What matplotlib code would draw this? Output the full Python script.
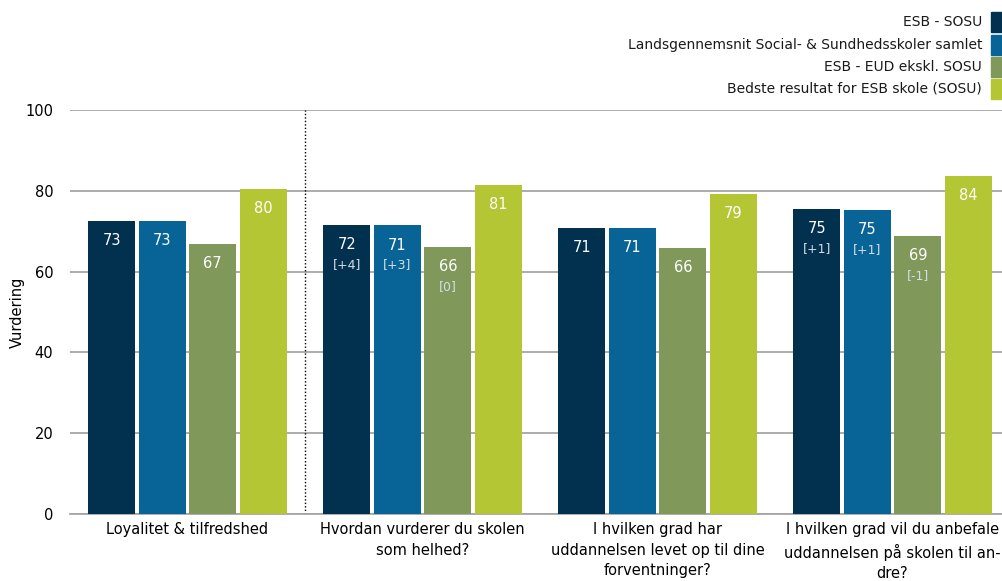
import matplotlib
matplotlib.use("Agg")
import matplotlib.pyplot as plt
import numpy as np

categories = [
    "Loyalitet & tilfredshed",
    "Hvordan vurderer du skolen\nsom helhed?",
    "I hvilken grad har\nuddannelsen levet op til dine\nforventninger?",
    "I hvilken grad vil du anbefale\nuddannelsen på skolen til an-\ndre?",
]
series_names = [
    "ESB - SOSU",
    "Landsgennemsnit Social- & Sundhedsskoler samlet",
    "ESB - EUD ekskl. SOSU",
    "Bedste resultat for ESB skole (SOSU)",
]
esb_sosu = [72.6, 71.6, 70.9, 75.6]
lands = [72.6, 71.5, 70.9, 75.3]
esb_eud = [66.9, 66.2, 65.9, 68.9]
bedste = [80.5, 81.5, 79.3, 83.7]

esb_sosu_labels = ["73", "72", "71", "75"]
lands_labels = ["73", "71", "71", "75"]
esb_eud_labels = ["67", "66", "66", "69"]
bedste_labels = ["80", "81", "79", "84"]

esb_sosu_delta = ["", "[+4]", "", "[+1]"]
lands_delta = ["", "[+3]", "", "[+1]"]
esb_eud_delta = ["", "[0]", "", "[-1]"]
bedste_delta = ["", "", "", ""]

colors = ["#02304F", "#086496", "#809859", "#B4C633"]
FONT = "DejaVu Sans"

fig = plt.figure(figsize=(10.02, 5.81), dpi=100)
ax = fig.add_axes([70/1002, 67/581, 940/1002, 404/581])

values = [esb_sosu, lands, esb_eud, bedste]
labels = [esb_sosu_labels, lands_labels, esb_eud_labels, bedste_labels]
deltas = [esb_sosu_delta, lands_delta, esb_eud_delta, bedste_delta]

x = np.arange(len(categories))
w = 0.2
step = 0.215
for i, (vals, labs, dels) in enumerate(zip(values, labels, deltas)):
    xs = x + (i - 1.5) * step
    ax.bar(xs, vals, width=w, color=colors[i], zorder=3)
    for xi, v, lab, d in zip(xs, vals, labs, dels):
        ax.annotate(lab, (xi, v), xytext=(0, -14.5), textcoords="offset points",
                    ha="center", va="center", color="white", fontsize=10.5,
                    family=FONT, zorder=4)
        if d:
            ax.annotate(d, (xi, v), xytext=(0, -28.5), textcoords="offset points",
                        ha="center", va="center", color="#d4dde6", fontsize=9,
                        family=FONT, zorder=4)

ax.set_xlim(-0.5, 3.5)
ax.set_ylim(0, 100)
ax.set_yticks([0, 20, 40, 60, 80, 100])
ax.yaxis.grid(True, color="#a6a6a6", linewidth=1.3, zorder=0)
ax.set_axisbelow(True)
for s in ["top", "right", "left"]:
    ax.spines[s].set_visible(False)
ax.spines["bottom"].set_color("#a6a6a6")
ax.spines["bottom"].set_linewidth(1.3)
ax.tick_params(axis="both", length=0, labelsize=10.5)
ax.tick_params(axis="y", pad=12)
ax.tick_params(axis="x", pad=6)
ax.set_xticks(x)
ax.set_xticklabels(categories, family=FONT, fontsize=10.5, linespacing=1.45)
for t in ax.get_yticklabels():
    t.set_family(FONT)
ax.set_ylabel("Vurdering", family=FONT, fontsize=10.5, labelpad=8)
ax.yaxis.set_label_coords(-45/940, 0.5)

ax.axvline(0.5, ymin=0, ymax=1, color="black", linestyle=(0, (1, 1.5)), linewidth=1, zorder=2)

# legend at top right
ys = [22, 45, 67, 89]
for name, c, yp in zip(series_names, colors, ys):
    fig.text(982/1002, 1 - yp/581, name, ha="right", va="center",
             family=FONT, fontsize=10, color="#1a1a1a")
    fig.patches.append(plt.Rectangle((991/1002, 1 - (yp + 10)/581), 12/1002, 20/581,
                                     transform=fig.transFigure, color=c, figure=fig))

fig.savefig("out.png", dpi=100)
